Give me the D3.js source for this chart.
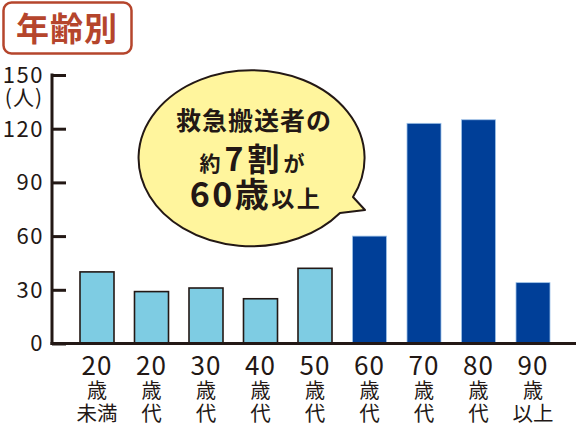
<!DOCTYPE html>
<html lang="ja">
<head>
<meta charset="UTF-8">
<title>年齢別 救急搬送者数</title>
<script src="https://d3js.org/d3.v7.min.js"></script>
<style>
    body { margin: 0; background: #fff; }
    svg { display: block; font-family: "Noto Sans CJK JP", "Noto Sans", sans-serif; }
</style>
</head>
<body>
<svg id="chart" width="576" height="427"></svg>
<script>
    // データ
    const ageNum   = ["20", "20", "30", "40", "50", "60", "70", "80", "90"];
    const ageLine2 = ["歳", "歳", "歳", "歳", "歳", "歳", "歳", "歳", "歳"];
    const ageLine3 = ["未満", "代", "代", "代", "代", "代", "代", "代", "以上"];
    const counts   = [40, 29, 31, 25, 42, 60, 123, 125, 34];
    const yTicks   = [0, 30, 60, 90, 120, 150];
    const ids = ageNum.map((d, i) => i);

    const ink = "#231815";
    const light = "#7ecce3";
    const dark = "#003f98";

    const svg = d3.select("#chart");

    // スケール
    const x = d3.scaleBand()
        .domain(ids)
        .range([69.75, 560.25])
        .paddingInner(0.376)
        .paddingOuter(0.188);

    const y = d3.scaleLinear()
        .domain([0, 150])
        .range([343.5, 75]);

    const axisX = 52;

    // 棒
    svg.append("g").selectAll("rect")
        .data(ids)
        .enter()
        .append("rect")
        .attr("x", i => x(i))
        .attr("y", i => y(counts[i]))
        .attr("width", x.bandwidth())
        .attr("height", i => y(0) - y(counts[i]))
        .attr("fill", i => i < 5 ? light : dark)
        .attr("stroke", i => i < 5 ? ink : "#9fc3e8")
        .attr("stroke-width", i => i < 5 ? 1.6 : 0.8);

    // y軸
    const yAxis = svg.append("g")
        .attr("transform", `translate(${axisX},0)`)
        .call(d3.axisLeft(y).tickValues(yTicks).tickSizeInner(-14).tickSizeOuter(0).tickPadding(8));
    yAxis.select(".domain").remove();
    yAxis.selectAll(".tick line").attr("stroke", ink).attr("stroke-width", 3);
    yAxis.selectAll(".tick text")
        .attr("font-family", "'Noto Sans CJK JP', sans-serif")
        .attr("font-size", 22)
        .attr("letter-spacing", 1.5)
        .attr("fill", ink)
        .attr("dy", "0.34em");
    svg.append("line")
        .attr("x1", axisX).attr("x2", axisX)
        .attr("y1", y(150) - 1.5).attr("y2", y(0) + 1.5)
        .attr("stroke", ink).attr("stroke-width", 3);
    svg.append("text")
        .attr("x", 43).attr("y", y(150) + 30)
        .attr("text-anchor", "end")
        .attr("font-size", 21)
        .attr("letter-spacing", 1)
        .attr("fill", ink)
        .text("(人)");

    // x軸
    svg.append("line")
        .attr("x1", axisX - 1.5).attr("x2", 576)
        .attr("y1", y(0)).attr("y2", y(0))
        .attr("stroke", ink).attr("stroke-width", 3);

    const labels = svg.append("g").selectAll("g")
        .data(ids)
        .enter()
        .append("g")
        .attr("transform", i => `translate(${x(i) + x.bandwidth() / 2},0)`)
        .attr("fill", ink)
        .attr("text-anchor", "middle");
    labels.append("text")
        .attr("y", 375)
        .attr("font-size", 26)
        .attr("letter-spacing", 1)
        .text(i => ageNum[i]);
    labels.append("text")
        .attr("y", 398)
        .attr("font-size", 20)
        .text(i => ageLine2[i]);
    labels.append("text")
        .attr("y", 421)
        .attr("font-size", 20.5)
        .text(i => ageLine3[i]);

    // タイトル
    svg.append("rect")
        .attr("x", 3.5).attr("y", 2.5)
        .attr("width", 128).attr("height", 51)
        .attr("rx", 8)
        .attr("fill", "#fff")
        .attr("stroke", "#b5452c")
        .attr("stroke-width", 2.5);
    svg.append("text")
        .attr("x", 67).attr("y", 41)
        .attr("text-anchor", "middle")
        .attr("font-size", 33)
        .attr("font-weight", "bold")
        .attr("letter-spacing", 1)
        .attr("fill", "#b5452c")
        .text("年齢別");

    // 吹き出し
    svg.append("path")
        .attr("d", "M353,197 A113,88 0 1 0 340,213 L365,210 Z")
        .attr("fill", "#fff59d")
        .attr("stroke", ink)
        .attr("stroke-width", 2)
        .attr("stroke-linejoin", "round");

    const bubble = svg.append("g")
        .attr("fill", ink)
        .attr("font-weight", "bold")
        .attr("text-anchor", "middle");
    bubble.append("text")
        .attr("x", 254).attr("y", 130)
        .attr("font-size", 25)
        .attr("letter-spacing", 1)
        .text("救急搬送者の");
    const l2 = bubble.append("text").attr("x", 254).attr("y", 171).attr("letter-spacing", 4);
    l2.append("tspan").attr("font-size", 21).text("約");
    l2.append("tspan").attr("font-size", 32).text("7割");
    l2.append("tspan").attr("font-size", 21).text("が");
    const l3 = bubble.append("text").attr("x", 256).attr("y", 207).attr("letter-spacing", 2.5);
    l3.append("tspan").attr("font-size", 34).text("60歳");
    l3.append("tspan").attr("font-size", 23).text("以上");
</script>
</body>
</html>
